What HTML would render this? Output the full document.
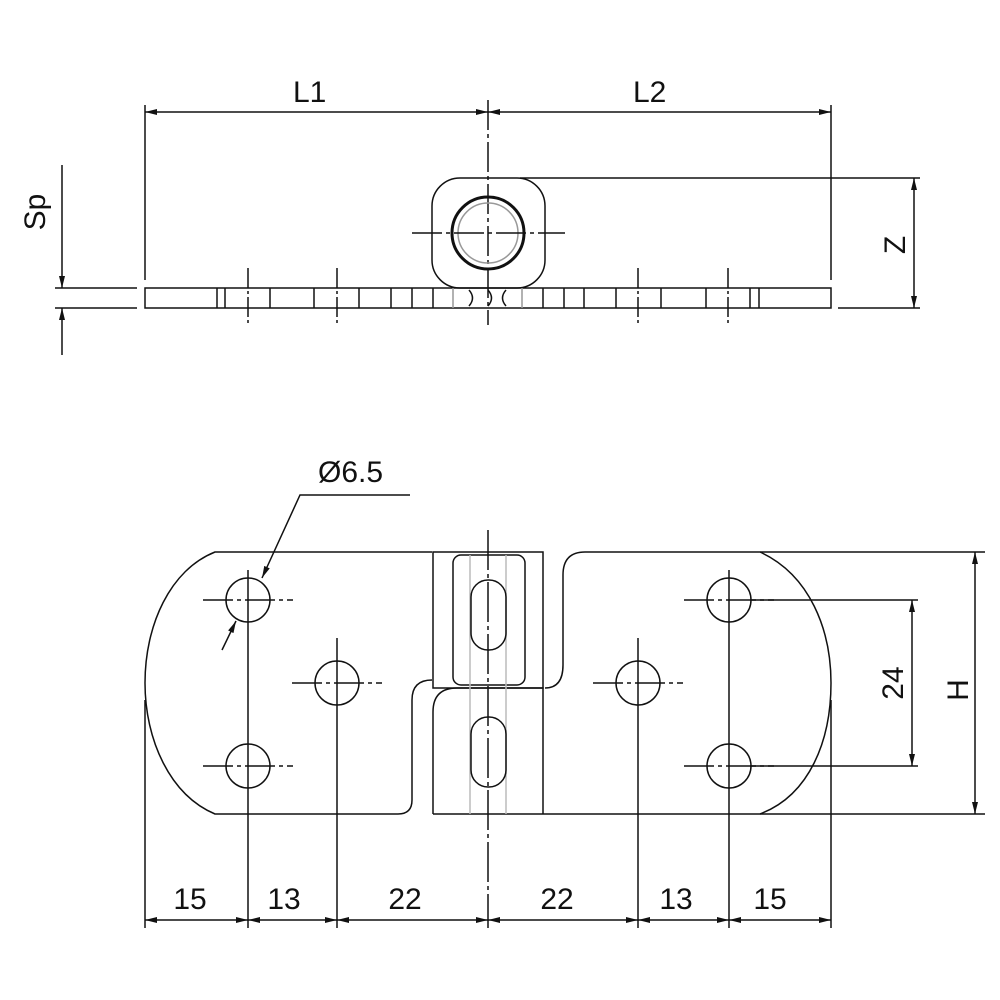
<!DOCTYPE html>
<html><head><style>body{margin:0;background:#fff}svg{display:block}text{font-family:"Liberation Sans",sans-serif;font-size:30px;fill:#111}</style></head>
<body>
<svg width="1000" height="1000" viewBox="0 0 1000 1000" xmlns="http://www.w3.org/2000/svg">
<defs>
<marker id="a" viewBox="0 0 12 6" refX="12" refY="3" markerWidth="12" markerHeight="6" orient="auto-start-reverse" markerUnits="userSpaceOnUse"><path d="M0,0 L12,3 L0,6z" fill="#111"/></marker>
</defs>
<g stroke="#111" stroke-width="1.5" fill="none">
<!-- top view dims -->
<line x1="145" y1="105" x2="145" y2="280"/>
<line x1="831" y1="105" x2="831" y2="280"/>
<line x1="145" y1="112" x2="488" y2="112" marker-start="url(#a)" marker-end="url(#a)"/>
<line x1="488" y1="112" x2="831" y2="112" marker-start="url(#a)" marker-end="url(#a)"/>
<line x1="488" y1="100" x2="488" y2="325" stroke-dasharray="30,4,4,4"/>
<rect x="432" y="178" width="113" height="110" rx="28"/>
<circle cx="488" cy="233" r="36" stroke-width="3"/>
<circle cx="488" cy="233" r="30" stroke="#999"/>
<line x1="412" y1="233" x2="565" y2="233" stroke-dasharray="30,4,4,4"/>
<line x1="520" y1="178" x2="920" y2="178"/>
<line x1="838" y1="308" x2="920" y2="308"/>
<line x1="914" y1="178" x2="914" y2="308" marker-start="url(#a)" marker-end="url(#a)"/>
<rect x="145" y="288" width="686" height="20"/>
<line x1="55" y1="288" x2="137" y2="288"/><line x1="55" y1="308" x2="137" y2="308"/>
<line x1="62" y1="165" x2="62" y2="288" marker-end="url(#a)"/>
<line x1="62" y1="355" x2="62" y2="308" marker-end="url(#a)"/>
<g>
<line x1="217" y1="288" x2="217" y2="308"/><line x1="225" y1="288" x2="225" y2="308"/><line x1="270" y1="288" x2="270" y2="308"/><line x1="314" y1="288" x2="314" y2="308"/><line x1="359" y1="288" x2="359" y2="308"/><line x1="391" y1="288" x2="391" y2="308"/><line x1="412" y1="288" x2="412" y2="308"/><line x1="433" y1="288" x2="433" y2="308"/><line x1="453" y1="288" x2="453" y2="308" stroke="#999"/><line x1="522" y1="288" x2="522" y2="308" stroke="#999"/><line x1="543" y1="288" x2="543" y2="308"/><line x1="564" y1="288" x2="564" y2="308"/><line x1="584" y1="288" x2="584" y2="308"/><line x1="616" y1="288" x2="616" y2="308"/><line x1="661" y1="288" x2="661" y2="308"/><line x1="706" y1="288" x2="706" y2="308"/><line x1="750" y1="288" x2="750" y2="308"/><line x1="759" y1="288" x2="759" y2="308"/>
<path d="M469,290 Q476,298 469,306 M488,290 Q495,298 488,306 M506,290 Q499,298 506,306"/>
<line x1="248" y1="268" x2="248" y2="325" stroke-dasharray="20,3,3,3"/><line x1="337" y1="268" x2="337" y2="325" stroke-dasharray="20,3,3,3"/><line x1="638" y1="268" x2="638" y2="325" stroke-dasharray="20,3,3,3"/><line x1="728" y1="268" x2="728" y2="325" stroke-dasharray="20,3,3,3"/>
</g>
<!-- bottom view -->
<path d="M432,552 L215,552 C170,570 145,625 145,683 C145,740 170,795 215,814 L398,814 Q412,814 412,800 L412,700 Q412,680 432,680"/>
<path d="M545,688 Q563,688 563,665 L563,575 Q563,552 585,552 L760,552 C810,575 831,630 831,683 C831,740 810,795 760,814 L433,814"/>
<rect x="433" y="552" width="110" height="136"/>
<rect x="453" y="555" width="72" height="130" rx="8"/>
<path d="M433,814 L433,712 Q433,688 457,688 L543,688 L543,814"/>
<line x1="470" y1="555" x2="470" y2="814" stroke="#bbb"/><line x1="506" y1="555" x2="506" y2="814" stroke="#bbb"/>
<rect x="471" y="580" width="35" height="70" rx="17"/>
<rect x="471" y="717" width="35" height="70" rx="17"/>
<line x1="488" y1="530" x2="488" y2="928" stroke-dasharray="40,4,4,4"/>
<g stroke-dasharray="30,4,4,4">
<line x1="203" y1="600" x2="293" y2="600"/><line x1="203" y1="766" x2="293" y2="766"/><line x1="292" y1="683" x2="382" y2="683"/>
<line x1="684" y1="600" x2="774" y2="600"/><line x1="684" y1="766" x2="774" y2="766"/><line x1="593" y1="683" x2="683" y2="683"/>
</g>
<circle cx="248" cy="600" r="22"/><circle cx="248" cy="766" r="22"/><circle cx="337" cy="683" r="22"/>
<circle cx="729" cy="600" r="22"/><circle cx="729" cy="766" r="22"/><circle cx="638" cy="683" r="22"/>
<line x1="248" y1="570" x2="248" y2="928"/><line x1="337" y1="638" x2="337" y2="928"/>
<line x1="729" y1="570" x2="729" y2="928"/><line x1="638" y1="638" x2="638" y2="928"/>
<line x1="145" y1="700" x2="145" y2="928"/><line x1="831" y1="700" x2="831" y2="928"/>
<line x1="145" y1="920" x2="248" y2="920" marker-start="url(#a)" marker-end="url(#a)"/>
<line x1="248" y1="920" x2="337" y2="920" marker-start="url(#a)" marker-end="url(#a)"/>
<line x1="337" y1="920" x2="488" y2="920" marker-start="url(#a)" marker-end="url(#a)"/>
<line x1="488" y1="920" x2="638" y2="920" marker-start="url(#a)" marker-end="url(#a)"/>
<line x1="638" y1="920" x2="729" y2="920" marker-start="url(#a)" marker-end="url(#a)"/>
<line x1="729" y1="920" x2="831" y2="920" marker-start="url(#a)" marker-end="url(#a)"/>
<path d="M410,495 L300,495 L262,578" marker-end="url(#a)"/>
<line x1="222" y1="650" x2="236" y2="621" marker-end="url(#a)"/>
<line x1="750" y1="600" x2="918" y2="600"/><line x1="750" y1="766" x2="918" y2="766"/>
<line x1="912" y1="600" x2="912" y2="766" marker-start="url(#a)" marker-end="url(#a)"/>
<line x1="760" y1="552" x2="985" y2="552"/><line x1="760" y1="814" x2="985" y2="814"/>
<line x1="975" y1="552" x2="975" y2="814" marker-start="url(#a)" marker-end="url(#a)"/>
</g>
<text x="293" y="102">L1</text><text x="633" y="102">L2</text>
<text transform="translate(45,212) rotate(-90)" text-anchor="middle">Sp</text>
<text transform="translate(905,245) rotate(-90)" text-anchor="middle">Z</text>
<text x="318" y="482">Ø6.5</text>
<text transform="translate(903,683) rotate(-90)" text-anchor="middle">24</text>
<text transform="translate(968,690) rotate(-90)" text-anchor="middle">H</text>
<g text-anchor="middle"><text x="190" y="909">15</text><text x="284" y="909">13</text><text x="405" y="909">22</text><text x="557" y="909">22</text><text x="676" y="909">13</text><text x="770" y="909">15</text></g>
</svg>
</body></html>
